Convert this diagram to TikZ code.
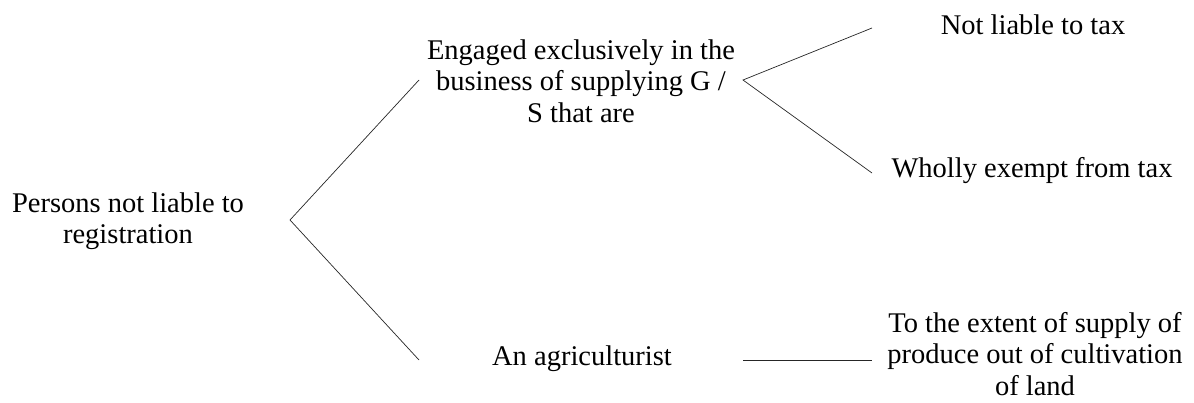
\documentclass[tikz,border=0pt]{standalone}
\usepackage{fontspec}
\setmainfont{Liberation Serif}
\begin{document}
\begin{tikzpicture}[x=1pt,y=-1pt,
  lbl/.style={inner sep=0pt, align=center, font=\fontsize{28.5}{31.5}\selectfont},
  conn/.style={line width=0.7pt, draw=black!85}]
\useasboundingbox (0,0) rectangle (1194,402);
\node[lbl] (persons) at (128,221) {Persons not liable to\\registration};
\node[lbl] (engaged) at (581,81) {Engaged exclusively in the\\business of supplying G /\\S that are};
\node[lbl, anchor=base] (notliable) at (1033,34) {Not liable to tax};
\node[lbl, anchor=base] (exempt) at (1032,177) {Wholly exempt from tax};
\node[lbl, anchor=base] (agri) at (582,365) {An agriculturist};
\node[lbl] (extent) at (1035,354) {To the extent of supply of\\produce out of cultivation\\of land};
\coordinate (v1) at (290,220);
\coordinate (v1a) at (419,80);
\coordinate (v1b) at (419,360);
\coordinate (v2) at (743,80);
\coordinate (v2a) at (872,28);
\coordinate (v2b) at (872,173);
\coordinate (h1) at (743,360);
\coordinate (h2) at (872,360);
\draw[conn] (v1a) -- (v1) -- (v1b);
\draw[conn] (v2a) -- (v2) -- (v2b);
\draw[conn] (h1) -- (h2);
\end{tikzpicture}
\end{document}
